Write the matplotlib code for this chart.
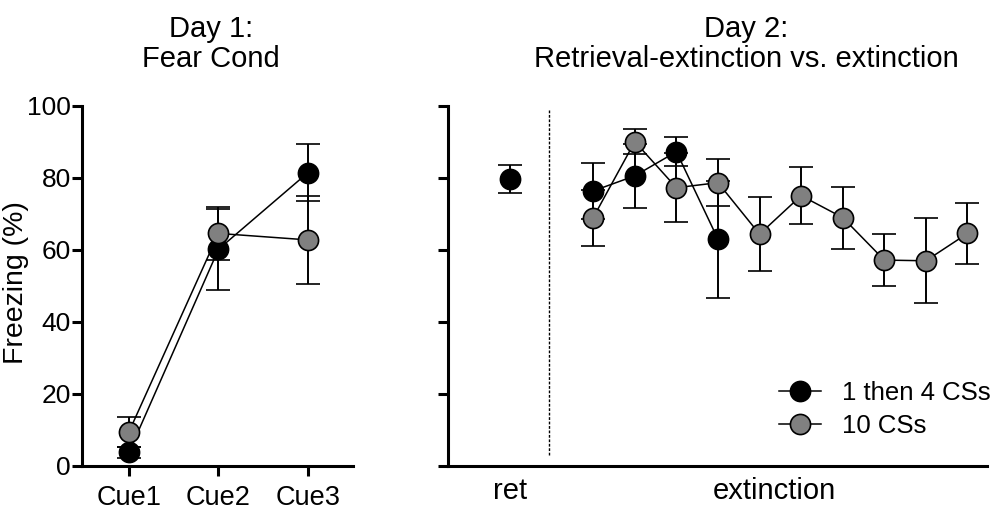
import matplotlib
matplotlib.use("Agg")
import matplotlib.pyplot as plt
from matplotlib.lines import Line2D

plt.rcParams['font.family'] = ['Liberation Sans', 'DejaVu Sans']
plt.rcParams['font.size'] = 18

# ---- data ----
cues = ["Cue1", "Cue2", "Cue3"]
day1_black = [3.8, 60.2, 81.5]
day1_black_err = [1.6, 11.2, 7.9]
day1_gray = [9.5, 64.6, 62.8]
day1_gray_err = [4.2, 7.4, 12.2]

ret_black = [79.6]
ret_black_err = [3.9]
ext_black = [76.4, 80.6, 87.3, 63.0]
ext_black_err = [7.7, 8.8, 4.0, 16.2]
ext_gray = [69.0, 90.1, 77.3, 78.7, 64.4, 75.1, 69.0, 57.2, 57.0, 64.6]
ext_gray_err = [7.8, 3.5, 9.6, 6.5, 10.2, 8.0, 8.6, 7.2, 11.8, 8.4]

series_labels = ["1 then 4 CSs", "10 CSs"]
yticks = [0, 20, 40, 60, 80, 100]

GRAY = "#808080"
fig = plt.figure(figsize=(10, 5.14), dpi=100)

ax1 = fig.add_axes([0.082, 0.0934, 0.271, 0.7004])
ax2 = fig.add_axes([0.4477, 0.0934, 0.5393, 0.7004])

SPW = 2.2
mk = dict(marker='o', markersize=14.5, markeredgewidth=1.2, markeredgecolor='black',
          color='black', linewidth=1.1, elinewidth=1.4, capsize=8.3, capthick=1.4,
          ecolor='black')

x1 = [1, 2, 3]
ax1.errorbar(x1, day1_black, yerr=day1_black_err, markerfacecolor='black', zorder=3, **mk)
ax1.errorbar(x1, day1_gray, yerr=day1_gray_err, markerfacecolor=GRAY, zorder=4, **mk)

ax2.errorbar([0], ret_black, yerr=ret_black_err, markerfacecolor='black', zorder=3, **mk)
xb = list(range(2, 2 + len(ext_black)))
xg = list(range(2, 2 + len(ext_gray)))
ax2.errorbar(xb, ext_black, yerr=ext_black_err, markerfacecolor='black', zorder=3, **mk)
ax2.errorbar(xg, ext_gray, yerr=ext_gray_err, markerfacecolor=GRAY, zorder=4, **mk)
ax2.plot([0.93, 0.93], [3, 99], color='black', linestyle=(0, (2, 1.2)), linewidth=1.0)

for ax in (ax1, ax2):
    ax.set_ylim(0, 100)
    ax.set_yticks(yticks)
    for s in ('top', 'right'):
        ax.spines[s].set_visible(False)
    for s in ('left', 'bottom'):
        ax.spines[s].set_linewidth(SPW)
    ax.tick_params(axis='both', direction='out', length=7.2, width=SPW)

ax1.set_xlim(0.475, 3.503)
ax1.set_xticks(x1)
ax1.set_xticklabels(cues, fontsize=19.5)
ax1.tick_params(axis='x', pad=6.5)
ax1.tick_params(axis='y', pad=0.8, labelsize=19)
ax1.set_ylabel("Freezing (%)", fontsize=20.5)
ax1.yaxis.set_label_coords(-0.196, 0.51)

ax2.set_xlim(-1.5, 11.47)
ax2.set_xticks([0, 6.36])
ax2.set_xticklabels(["ret", "extinction"], fontsize=21)
ax2.tick_params(axis='x', length=0, pad=8)
ax2.set_yticklabels([])

handles = [
    Line2D([], [], marker='o', markersize=14.5, markeredgewidth=1.2, markeredgecolor='black',
           markerfacecolor='black', color='black', linewidth=1.1),
    Line2D([], [], marker='o', markersize=14.5, markeredgewidth=1.2, markeredgecolor='black',
           markerfacecolor=GRAY, color='black', linewidth=1.1),
]
fig.legend(handles, series_labels, loc='upper left', bbox_to_anchor=(0.779, 0.258),
           frameon=False, fontsize=18.5, handlelength=1.65, handletextpad=0.8,
           borderpad=0, borderaxespad=0, labelspacing=0.35)

fig.text(0.211, 0.915, "Day 1:\nFear Cond", ha='center', va='center', fontsize=21,
         linespacing=1.1)
fig.text(0.7465, 0.915, "Day 2:\nRetrieval-extinction vs. extinction", ha='center',
         va='center', fontsize=21, linespacing=1.1)

fig.savefig("out.png", dpi=100)
